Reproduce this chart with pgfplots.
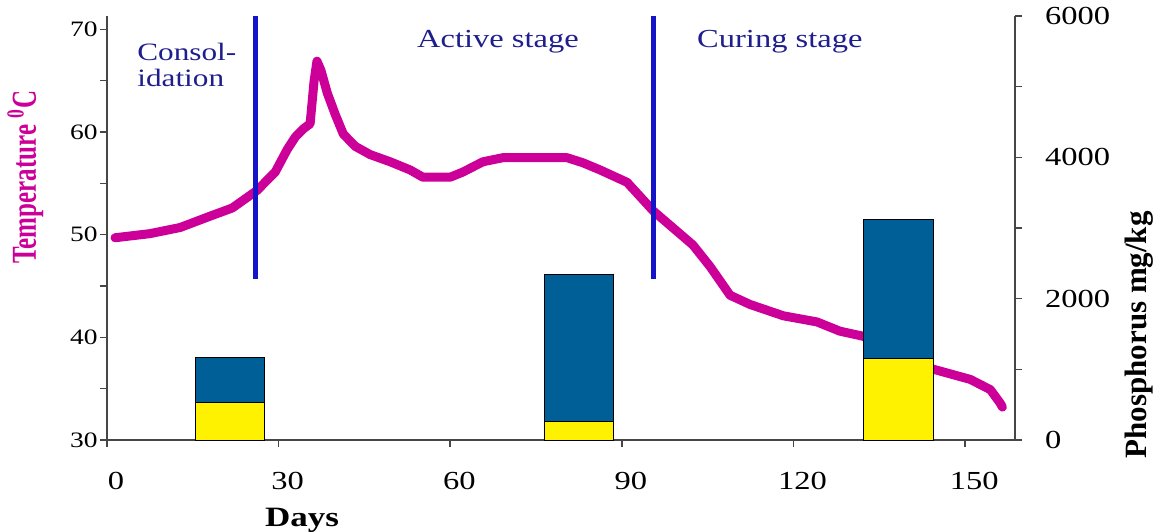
\documentclass[border=0pt]{standalone}
\usepackage{fontspec}
\setmainfont{Liberation Serif}[FakeStretch=1.25]
\newfontfamily\rotfont{Liberation Serif}
\usepackage{pgfplots}
\pgfplotsset{compat=1.18}
\definecolor{curve}{RGB}{204,0,153}
\definecolor{vline}{RGB}{20,20,200}
\definecolor{stagetext}{RGB}{30,30,140}
\definecolor{barblue}{RGB}{0,95,150}
\definecolor{axisgray}{RGB}{70,70,70}
\begin{document}
\begin{tikzpicture}
\useasboundingbox (-53.5pt,-45.5pt) rectangle (525pt,220pt);
\begin{axis}[
  at={(0,0)}, anchor=south west,
  scale only axis, width=454pt, height=212pt,
  xmin=0, xmax=158.7, ymin=30, ymax=71.3,
  axis x line=bottom, axis y line=left,
  axis line style={-, draw=axisgray, line width=0.9pt},
  tick style={draw=axisgray, line width=0.8pt},
  tick align=outside, major tick length=3.5pt, minor tick length=3.5pt,
  xtick={0,30,60,90,120,150},
  ytick={30,40,50,60,70}, minor ytick={35,45,55,65},
  /pgf/number format/assume math mode=true,
  xticklabel style={font=\fontsize{13}{14}\selectfont, anchor=center, yshift=-17pt, xshift=4.5pt},
  yticklabel style={font=\fontsize{11}{12}\selectfont, anchor=east, inner sep=1pt},
  xlabel={\bfseries Days},
  xlabel style={font=\fontsize{14}{15}\selectfont, at={(axis description cs:0.2148,-0.19)}, anchor=center},
  ylabel={\scalebox{1}[1.4]{\rotfont\bfseries Temperature \textsuperscript{0}C}},
  ylabel style={font=\fontsize{12.5}{14}\selectfont, text=curve, at={(axis description cs:-0.09,0.62)}, anchor=center},
]
\addplot[curve, line width=4.5pt, line join=round, line cap=round] coordinates {
(1.4,49.7) (7.5,50.1) (12.8,50.7) (18.0,51.8) (21.9,52.6) (26.2,54.3) (29.4,56.1)
(31.5,58.3) (32.9,59.5) (34.3,60.3) (35.5,60.8) (36.2,65.0) (36.7,66.9) (37.4,66.0)
(38.5,63.8) (39.9,61.7) (41.3,59.8) (43.4,58.6) (46.0,57.8) (49.5,57.1) (53.0,56.3)
(55.2,55.6) (60.0,55.6) (62.2,56.1) (65.7,57.1) (69.2,57.5) (80.4,57.5) (83.2,57.0)
(86.2,56.3) (90.9,55.1) (95.5,52.3) (102.4,49.0) (105.4,46.9) (108.9,44.1) (112.4,43.2)
(118.2,42.1) (124.1,41.5) (128.1,40.6) (132.2,40.1) (138.0,38.5) (144.4,36.9) (150.9,35.9)
(154.4,34.9) (156.1,33.6) (156.5,33.2)};
\addplot[vline, line width=2.5pt] coordinates {(25.9,45.7) (25.9,71.3)};
\addplot[vline, line width=2.5pt] coordinates {(95.5,45.7) (95.5,71.3)};
\node[text=stagetext, font=\fontsize{12.5}{13}\selectfont, align=left, anchor=west, inner sep=0pt]
  at (axis description cs:0.033,0.884) {Consol-\\idation};
\node[text=stagetext, font=\fontsize{13}{14}\selectfont, anchor=center, inner sep=0pt]
  at (axis description cs:0.4306,0.9387) {Active stage};
\node[text=stagetext, font=\fontsize{13}{14}\selectfont, anchor=center, inner sep=0pt]
  at (axis description cs:0.741,0.9387) {Curing stage};
\end{axis}
\begin{axis}[
  at={(0,0)}, anchor=south west,
  scale only axis, width=454pt, height=212pt,
  xmin=0, xmax=158.7, ymin=0, ymax=6000,
  axis x line=none, axis y line=right,
  axis line style={-, draw=axisgray, line width=0.9pt},
  tick style={draw=axisgray, line width=0.8pt},
  tick align=outside, major tick length=3.5pt, minor tick length=3.5pt,
  ytick={0,2000,4000,6000}, minor ytick={1000,3000,5000},
  scaled y ticks=false,
  /pgf/number format/assume math mode=true,
  /pgf/number format/1000 sep={},
  yticklabel style={font=\fontsize{13}{14}\selectfont, anchor=west, xshift=8pt},
  ybar stacked, bar width=12.2,
  ylabel={\rotfont\bfseries Phosphorus mg/kg},
  ylabel style={font=\fontsize{15.5}{17}\selectfont, at={(axis description cs:1.1366,0.248)}, anchor=center, rotate=0},
]
\addplot[fill=yellow, draw=black, line width=0.5pt] coordinates {(21.5,524) (82.5,255) (138.3,1160)};
\addplot[fill=barblue, draw=black, line width=0.5pt] coordinates {(21.5,650) (82.5,2094) (138.3,1967)};
\end{axis}
\end{tikzpicture}
\end{document}
